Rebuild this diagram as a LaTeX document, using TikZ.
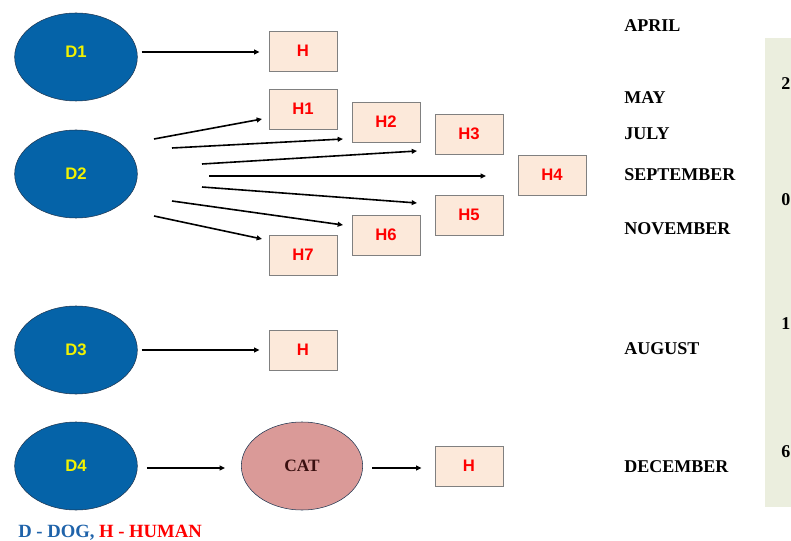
\documentclass[tikz,border=0pt]{standalone}
\usepackage{fontspec}
\setmainfont{Liberation Serif}
\setsansfont{Liberation Sans}
\usepackage{tikz}
\usetikzlibrary{arrows.meta,calc,positioning,shapes.geometric}
\definecolor{DogBlue}{HTML}{0563A8}
\definecolor{DogEdge}{HTML}{1E3550}
\definecolor{DogYellow}{HTML}{F2F200}
\definecolor{HumanFill}{HTML}{FCE9DA}
\definecolor{HumanEdge}{HTML}{808080}
\definecolor{HumanRed}{HTML}{FF0000}
\definecolor{CatRose}{HTML}{DA9A98}
\definecolor{CatBrown}{HTML}{3A1010}
\definecolor{PanelGreen}{HTML}{EBEEDE}
\definecolor{LegendBlue}{HTML}{1F63AA}

\tikzset{
  dog/.style={ellipse,fill=DogBlue,draw=DogEdge,thin,minimum width=92pt,minimum height=66pt,inner sep=0pt,
    text=DogYellow,font=\sffamily\bfseries\fontsize{12.5}{14}\selectfont},
  dogname/.style={inner sep=0pt,text=DogYellow,font=\sffamily\bfseries\fontsize{12.5}{14}\selectfont},
  human/.style={rectangle,fill=HumanFill,draw=HumanEdge,thin,minimum width=51pt,minimum height=30pt,inner sep=0pt,
    text=HumanRed,font=\sffamily\bfseries\fontsize{12.5}{14}\selectfont},
  cat/.style={ellipse,fill=CatRose,draw=DogEdge,thin,minimum width=91pt,minimum height=66pt,inner sep=0pt,
    text=CatBrown,font=\bfseries\fontsize{13}{15}\selectfont},
  month/.style={anchor=west,inner sep=0pt,font=\bfseries\fontsize{13.5}{15}\selectfont},
  arr/.style={-{Triangle[length=4pt,width=3.6pt]},line width=1.2pt},
}

\begin{document}
\begin{tikzpicture}[x=0.75pt,y=-0.75pt]
  \clip (0,0) rectangle (791,541);
  \fill[PanelGreen] (765,38) rectangle (795,507);
  \foreach \d/\y in {2/84,0/200,1/324,6/452}
    \node[month,anchor=west] (digit\d) at (781,\y) {\d};

  % dogs
  \node[dog] (d1) at (76,57) {};
  \node[dogname] (d1text) at (76,52) {D1};
  \node[dog] (d2) at (76,174) {D2};
  \node[dog] (d3) at (76,350) {D3};
  \node[dog] (d4) at (76,466) {D4};
  \node[cat] (cat) at (302,466) {CAT};

  % humans
  \node[human] (ha) at (303,51) {H};
  \foreach \n/\x/\y in {1/303/109,2/386/122,3/469/134,4/552/175,5/469/215,6/386/235,7/303/255}
    \node[human] (h\n) at (\x,\y) {H\n};
  \node[human] (hc) at (303,350) {H};
  \node[human] (hd) at (469,466) {H};

  % arrows
  \draw[arr] ([xshift=3pt]d1.east |- d1text) -- ([xshift=-7pt]ha.west |- d1text);
  \foreach \n/\sx/\sy/\ex/\ey in {1/154/139/262/119,2/172/148/343/139,3/202/164/417/151,4/209/176/486/176,
                                  5/202/187/417/203,6/172/201/343/225,7/154/216/262/239}{
    \coordinate (s\n) at (\sx,\sy);
    \coordinate (e\n) at (\ex,\ey);
    \draw[arr] (s\n) -- (e\n);
  }
  \draw[arr] ([xshift=3pt]d3.east) -- ([xshift=-7pt]hc.west);
  \draw[arr] ([xshift=7pt,yshift=-1.5pt]d4.east) -- ([xshift=-12pt,yshift=-1.5pt]cat.west);
  \draw[arr] ([xshift=7pt,yshift=-1.5pt]cat.east) -- ([xshift=-10pt,yshift=-1.5pt]hd.west);

  % months
  \node[month] (apr) at (624,26) {APRIL};
  \node[month] (may) at (624,98) {MAY};
  \node[month] (jul) at (624,134) {JULY};
  \node[month] (sep) at (624,175) {SEPTEMBER};
  \node[month] (nov) at (624,229) {NOVEMBER};
  \node[month] (aug) at (624,349) {AUGUST};
  \node[month] (dec) at (624,467) {DECEMBER};

  % legend
  \node[anchor=west,inner sep=0pt,font=\bfseries\fontsize{14}{16}\selectfont] (legend) at (18,533)
    {\textcolor{LegendBlue}{D - DOG,} \textcolor{HumanRed}{H - HUMAN}};
\end{tikzpicture}
\end{document}
